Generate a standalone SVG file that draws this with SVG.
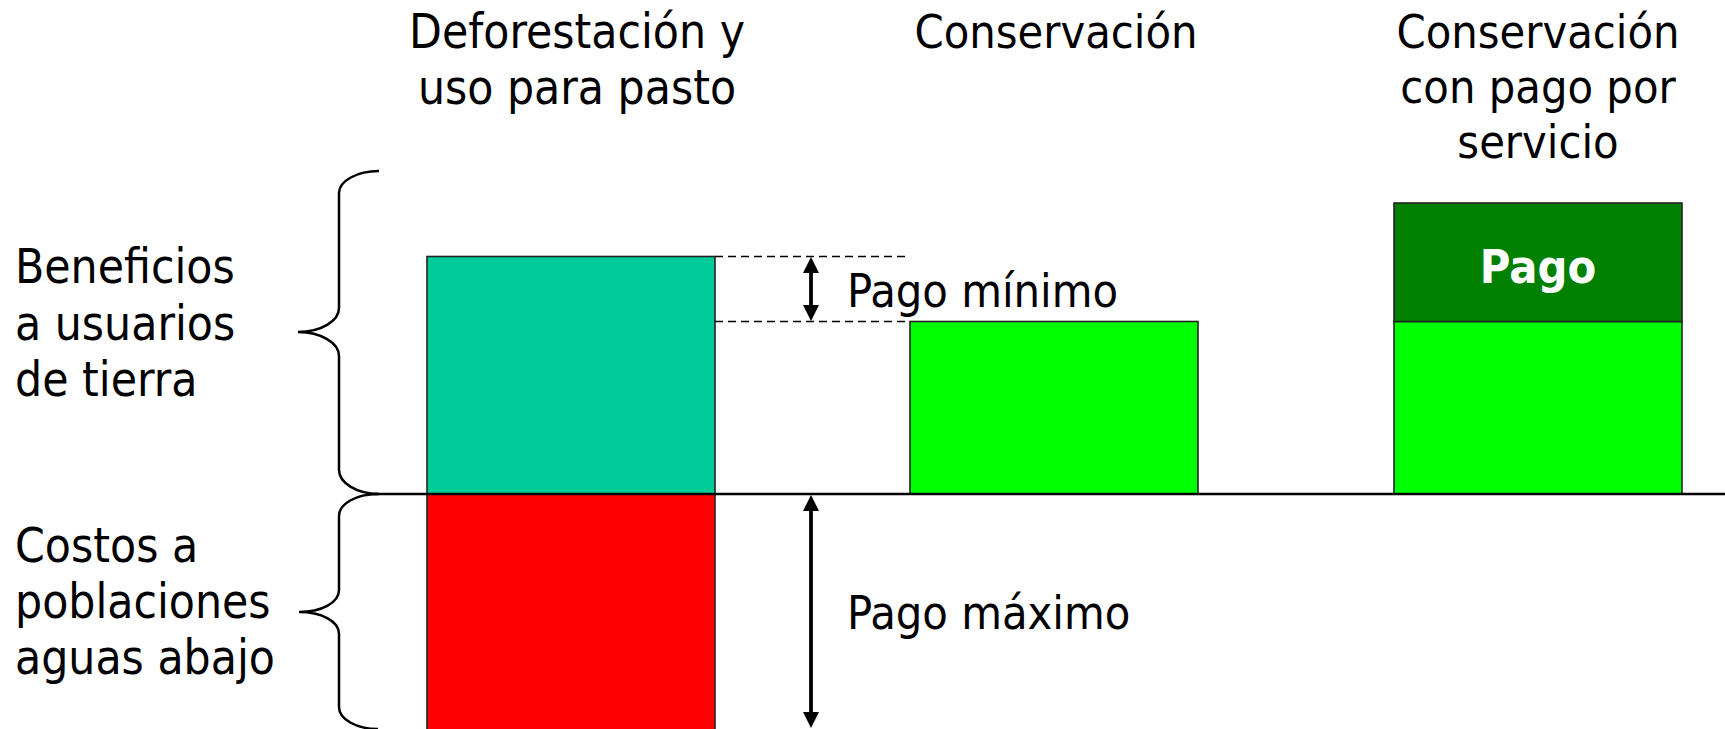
<svg xmlns="http://www.w3.org/2000/svg" width="1725" height="729" viewBox="0 0 1725 729">
<style>
text{font-family:"DejaVu Sans Condensed","DejaVu Sans","Liberation Sans",sans-serif;font-stretch:condensed;font-size:46.5px;fill:#000}
.c{text-anchor:middle}
.lbl{font-size:47.5px}
.bar{stroke:#222;stroke-width:1.6}
.brace{fill:none;stroke:#000;stroke-width:2.5}
.dash{stroke:#000;stroke-width:1.4;stroke-dasharray:8 5}
.arr{stroke:#000;stroke-width:3.8}
.pago{fill:#fff;font-weight:bold}
</style>
<defs>
<marker id="ah" viewBox="0 0 16 16" refX="5" refY="8" markerWidth="16" markerHeight="17" orient="auto-start-reverse" markerUnits="userSpaceOnUse">
<path d="M0,0 L16,8 L0,16 z" fill="#000"/>
</marker>
</defs>
<rect width="1725" height="729" fill="#fff"/>

<g id="titles">
<text class="c lbl" x="577" y="48">Deforestación y</text>
<text class="c lbl" x="577" y="104">uso para pasto</text>
<text class="c" x="1056" y="48">Conservación</text>
<text class="c" x="1538" y="48">Conservación</text>
<text class="c" x="1538" y="103">con pago por</text>
<text class="c" x="1538" y="158">servicio</text>
</g>

<g id="label-beneficios">
<text class="lbl" x="15" y="283">Beneficios</text>
<text class="lbl" x="15" y="340">a usuarios</text>
<text class="lbl" x="15" y="396">de tierra</text>
</g>
<g id="label-costos">
<text class="lbl" x="15" y="562">Costos a</text>
<text class="lbl" x="15" y="618">poblaciones</text>
<text class="lbl" x="15" y="674">aguas abajo</text>
</g>

<g id="brace-beneficios">
<path class="brace" d="M379,171 C357,171 339,181 339,193 L339,308 C339,321 321,332 298,332 C321,332 339,343 339,356 L339,470 C339,483 357,494 379,494"/>
</g>
<g id="brace-costos">
<path class="brace" d="M378,494 C356,494 339,504 339,516 L339,590 C339,603 321,612 299,612 C321,612 339,621 339,634 L339,707 C339,719 356,729 378,729"/>
</g>

<g id="bar-deforestacion">
<rect class="bar" x="427" y="256.5" width="288" height="237.5" fill="#00CC99"/>
<rect class="bar" x="427" y="494" width="288" height="240" fill="#FF0000"/>
</g>
<g id="bar-conservacion">
<rect class="bar" x="910" y="321.5" width="288" height="172.5" fill="#00FF00"/>
</g>
<g id="bar-conservacion-pago">
<rect class="bar" x="1394" y="321.5" width="288" height="172.5" fill="#00FF00"/>
<rect class="bar" x="1394" y="203" width="288" height="118.5" fill="#008000"/>
<text class="c pago" x="1538" y="283">Pago</text>
</g>

<g id="connectors">
<line x1="374" y1="494" x2="1725" y2="494" stroke="#000" stroke-width="2.5"/>
<line class="dash" x1="715" y1="256.5" x2="908" y2="256.5"/>
<line class="dash" x1="715" y1="321.5" x2="908" y2="321.5"/>
<line class="arr" x1="811" y1="268" x2="811" y2="310" marker-start="url(#ah)" marker-end="url(#ah)"/>
<line class="arr" x1="811" y1="506" x2="811" y2="717" marker-start="url(#ah)" marker-end="url(#ah)"/>
</g>

<g id="annotations">
<text x="847" y="307">Pago mínimo</text>
<text x="847" y="629">Pago máximo</text>
</g>
</svg>
